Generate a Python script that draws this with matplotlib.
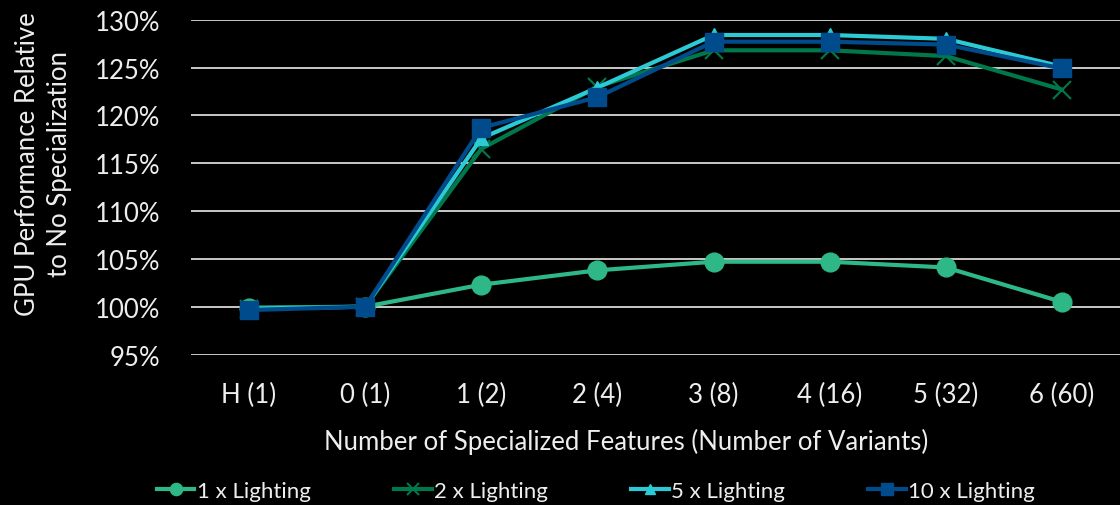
import matplotlib
matplotlib.use("Agg")
import matplotlib.pyplot as plt

plt.rcParams['font.family'] = ['Lato', 'DejaVu Sans']

categories = ["H (1)", "0 (1)", "1 (2)", "2 (4)", "3 (8)", "4 (16)", "5 (32)", "6 (60)"]

light_1x = [99.9, 100.0, 102.3, 103.8, 104.7, 104.7, 104.1, 100.5]
light_2x = [99.8, 100.0, 116.5, 123.0, 126.8, 126.8, 126.2, 122.7]
light_5x = [99.8, 100.0, 117.6, 122.9, 128.4, 128.4, 128.0, 125.1]
light_10x = [99.65, 100.0, 118.7, 121.9, 127.7, 127.7, 127.4, 124.9]

series_labels = ["1 x Lighting", "2 x Lighting", "5 x Lighting", "10 x Lighting"]
y_ticks = [95, 100, 105, 110, 115, 120, 125, 130]

text_color = "#eeeeee"

fig = plt.figure(figsize=(11.2, 5.06), dpi=100, facecolor="black")
ax = fig.add_axes([0.1705, 0.2974, 0.8295, 0.6617], facecolor="black")

x = list(range(len(categories)))
ax.plot(x, light_1x, color="#2fb887", lw=3, marker="o", ms=13.5,
        label=series_labels[0], zorder=3)
ax.plot(x, light_2x, color="#00784c", lw=3, marker="x", ms=13, mew=1.5,
        label=series_labels[1], zorder=4)
ax.plot(x, light_5x, color="#2ccad4", lw=3, marker="^", ms=10,
        label=series_labels[2], zorder=5)
ax.plot(x, light_10x, color="#004b8c", lw=3, marker="s", ms=13.5,
        label=series_labels[3], zorder=6)

ax.set_xlim(-0.5, len(categories) - 0.5)
ax.set_ylim(95, 130)
ax.set_yticks(y_ticks)
ax.set_yticklabels([f"{v}%" for v in y_ticks])
ax.set_xticks(x)
ax.set_xticklabels(categories)
ax.grid(axis="y", color="#d9d9d9", lw=1.3, zorder=1)
ax.set_axisbelow(True)
for s in ax.spines.values():
    s.set_visible(False)
ax.tick_params(axis="both", length=0, colors=text_color, labelsize=18.5)
ax.tick_params(axis="y", pad=22)
ax.tick_params(axis="x", pad=20)

ax.set_xlabel("Number of Specialized Features (Number of Variants)",
              color=text_color, fontsize=18.5)
ax.xaxis.set_label_coords(0.468, -0.22)
ax.set_ylabel("GPU Performance Relative\nto No Specialization",
              color=text_color, fontsize=18.5, linespacing=1.35)
ax.yaxis.set_label_coords(-0.128, 0.572)

fig.legend(loc="center", bbox_to_anchor=(0.532, 0.028), ncol=4,
           frameon=False, fontsize=16, handlelength=1.7, markerscale=0.65,
           handletextpad=0.1, columnspacing=3.75, labelcolor=text_color)

fig.savefig("out.png", dpi=100, facecolor="black")
